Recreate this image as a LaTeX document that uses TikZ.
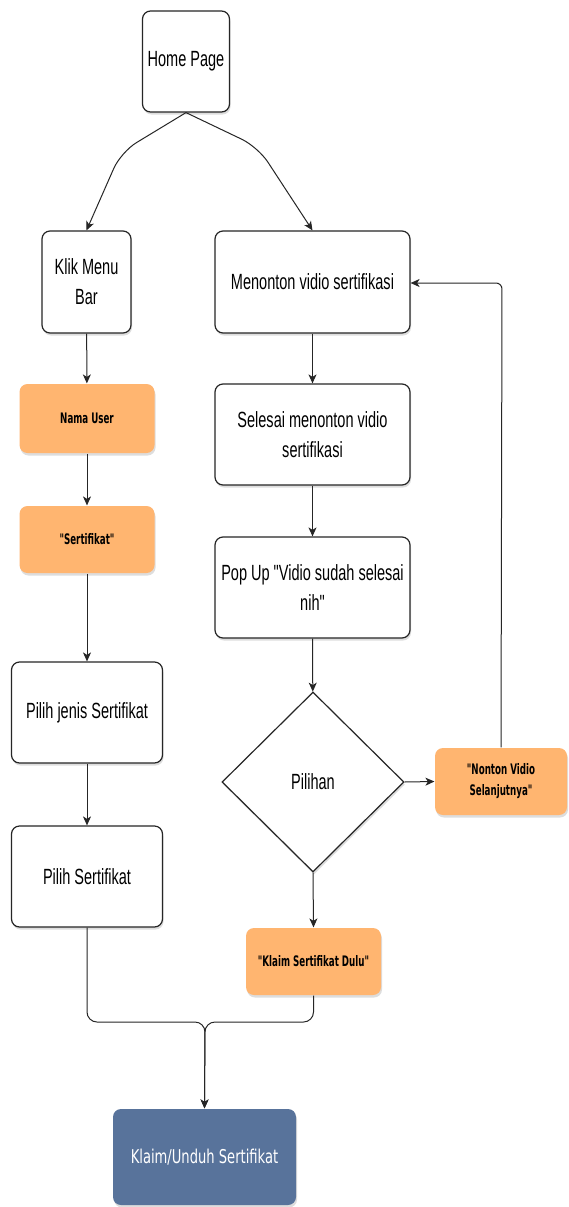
\documentclass[tikz,border=0pt]{standalone}
\usepackage{fontspec}
\setmainfont{Liberation Sans}[FakeStretch=0.66, Ligatures=TeXOff]
\newfontfamily\orfont{DejaVu Sans}[FakeStretch=0.6, Ligatures=TeXOff]
\newfontfamily\blfont{DejaVu Sans}[FakeStretch=0.69, Ligatures=TeXOff]
\usetikzlibrary{arrows.meta,shapes.geometric,shadows}
\definecolor{orng}{HTML}{FFB570}
\definecolor{bluebox}{HTML}{58739B}
\tikzset{
  shad/.style={drop shadow={shadow xshift=1pt, shadow yshift=-2.5pt, opacity=0.22, fill=black!60}},
  box/.style={draw=black!85, line width=1.2pt, rounded corners=8pt, fill=white, align=center,
    font=\fontsize{22}{30}\selectfont, inner sep=0pt, shad},
  orangebox/.style={box, draw=none, fill=orng, font=\orfont\bfseries\fontsize{14.5}{21}\selectfont},
  bluenode/.style={box, draw=none, fill=bluebox, text=white, font=\blfont\fontsize{19}{22}\selectfont},
  decision/.style={diamond, draw=black!85, line width=1.2pt, fill=white, align=center, inner sep=0pt,
    font=\fontsize{22}{30}\selectfont, shad},
  arr/.style={-{Stealth[length=9pt,width=8pt,inset=2.5pt]}, line width=1pt, draw=black!85},
}
\begin{document}
\begin{tikzpicture}[x=1pt,y=-1pt]
\useasboundingbox (0,0) rectangle (568,1207);
\fill[white] (0,0) rectangle (568,1207);

\node[box, minimum width=87pt, minimum height=101pt] (home) at (186,61.5) {Home Page};
\node[box, minimum width=89pt, minimum height=102pt] (klik) at (86.5,282) {Klik Menu\\Bar};
\node[box, minimum width=195pt, minimum height=102pt] (nonton) at (312.5,282) {Menonton vidio sertifikasi};
\node[orangebox, minimum width=135pt, minimum height=69pt] (nama) at (87,418.5) {Nama User};
\node[orangebox, minimum width=135pt, minimum height=67pt] (sert) at (87,539.5) {"Sertifikat"};
\node[box, minimum width=195pt, minimum height=101pt] (selesai) at (312.5,434.5) {Selesai menonton vidio\\sertifikasi};
\node[box, minimum width=195pt, minimum height=101pt] (popup) at (312.5,587.5) {Pop Up "Vidio sudah selesai\\nih"};
\node[box, minimum width=151pt, minimum height=101pt] (jenis) at (87,712.5) {Pilih jenis Sertifikat};
\node[box, minimum width=151pt, minimum height=101pt] (pilih) at (87,876.5) {Pilih Sertifikat};
\node[decision, minimum width=182pt, minimum height=180pt] (dec) at (313,782) {Pilihan};
\node[orangebox, minimum width=132pt, minimum height=67pt] (next) at (501,781.5) {"Nonton Vidio\\Selanjutnya"};
\node[orangebox, minimum width=135pt, minimum height=67pt] (klaim) at (313.5,961.5) {"Klaim Sertifikat Dulu"};
\node[bluenode, minimum width=183pt, minimum height=96pt] (unduh) at (204.5,1157) {Klaim/Unduh Sertifikat};

\coordinate (hl) at (121,152);
\coordinate (hr) at (258,147);
\coordinate (loop) at (502,283);
\coordinate (mj) at (205,1022);

\draw[arr, rounded corners=18pt] (home.south) -- (hl) -- (klik.north);
\draw[arr, rounded corners=18pt] (home.south) -- (hr) -- (nonton.north);
\draw[arr] (klik) -- (nama);
\draw[arr] (nama) -- (sert);
\draw[arr] (sert) -- (jenis);
\draw[arr] (jenis) -- (pilih);
\draw[arr] (nonton) -- (selesai);
\draw[arr] (selesai) -- (popup);
\draw[arr] (popup) -- (dec);
\draw[arr] (dec.east) -- (next.west);
\draw[arr] (dec.south) -- (klaim.north);
\draw[arr, rounded corners=6pt] (next.north) -- (loop) -- (nonton.east |- loop);
\draw[arr, rounded corners=10pt] (pilih.south) |- (mj) -- (unduh.north);
\draw[arr, rounded corners=10pt] (klaim.south) |- (mj) -- (unduh.north);
\end{tikzpicture}
\end{document}
